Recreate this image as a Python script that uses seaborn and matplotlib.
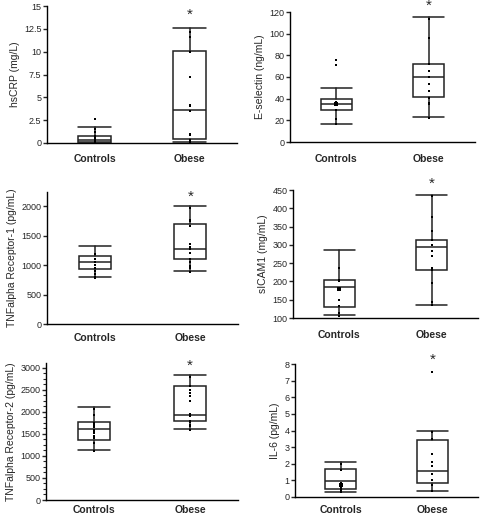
import matplotlib
matplotlib.use('Agg')
import matplotlib.pyplot as plt
import seaborn as sns
import pandas as pd
from matplotlib.ticker import AutoMinorLocator

sns.set_style('white')
plt.rcParams['font.family'] = ['Liberation Sans', 'DejaVu Sans']

groups = ['Controls', 'Obese']

# box stats per group: whisker low, q1, median, q3, whisker high
hscrp_ctrl = [2.6, 1.5, 1.2, 0.75, 0.5, 0.4, 0.3, 0.2, 0.15, 0.1, 0.05]
hscrp_obese = [12.2, 11.6, 10.0, 7.2, 4.2, 4.0, 3.5, 1.0, 0.85, 0.35, 0.2, 0.1]
hscrp_box = [[0.0, 0.15, 0.35, 0.8, 1.7], [0.1, 0.4, 3.6, 10.06, 12.55]]

esel_ctrl = [76, 71, 37, 36, 35, 34, 30, 21.6, 16.4]
esel_obese = [113.8, 95.9, 71.8, 65.6, 60.3, 53.2, 47.3, 40.8, 36.2, 35, 22.6]
esel_box = [[17, 29.4, 35.3, 39.3, 50], [22.9, 41.1, 60.3, 72.4, 115.4]]
esel_big = 35.5

tnf1_ctrl = [1180, 1100, 1050, 1000, 950, 900, 850, 800, 775]
tnf1_obese = [1966, 1758, 1740, 1657, 1354, 1309, 1270, 1200, 1100, 1050, 990, 950, 880]
tnf1_box = [[792, 927, 1056, 1152, 1326], [904, 1101, 1275, 1702, 1994]]

icam_ctrl = [238, 205, 200, 180, 150, 132, 115, 105]
icam_obese = [434, 377, 338, 312, 300, 282, 270, 236, 230, 195, 145, 135]
icam_box = [[107, 129, 184, 205, 286], [135, 232, 295, 314, 437]]
icam_big = 180

tnf2_ctrl = [2073, 1921, 1750, 1700, 1650, 1600, 1550, 1519, 1450, 1400, 1300, 1116]
tnf2_obese = [2794, 2589, 2490, 2430, 2350, 2255, 1950, 1898, 1800, 1769, 1700, 1670, 1600]
tnf2_box = [[1132, 1352, 1602, 1777, 2103], [1617, 1792, 1936, 2589, 2832]]

il6_ctrl = [1.97, 1.6, 0.82, 0.75, 0.6, 0.5, 0.44, 0.3]
il6_obese = [7.52, 3.88, 3.46, 2.61, 2.11, 1.85, 1.41, 1.0, 0.74, 0.36]
il6_box = [[0.3, 0.5, 0.94, 1.67, 2.11], [0.36, 0.84, 1.59, 3.44, 4.0]]
il6_big = 0.72

panels = [
    ('hsCRP (mg/L)', hscrp_ctrl, hscrp_obese, hscrp_box, None, (0, 15), [0, 2.5, 5, 7.5, 10, 12.5, 15], 14.0,
     [47, 237, 6, 143], 8),
    ('E-selectin (ng/mL)', esel_ctrl, esel_obese, esel_box, esel_big, (0, 120), [0, 20, 40, 60, 80, 100, 120], 126,
     [290, 475, 12, 142], 8.5),
    ('TNFalpha Receptor-1 (pg/mL)', tnf1_ctrl, tnf1_obese, tnf1_box, None, (0, 2240), [0, 500, 1000, 1500, 2000], 2163,
     [47, 238, 192, 324], 6.5),
    ('sICAM1 (mg/mL)', icam_ctrl, icam_obese, icam_box, icam_big, (100, 450), [100, 150, 200, 250, 300, 350, 400, 450], 468,
     [293, 478, 190, 318], 9),
    ('TNFalpha Receptor-2 (pg/mL)', tnf2_ctrl, tnf2_obese, tnf2_box, None, (0, 3110), [0, 500, 1000, 1500, 2000, 2500, 3000], 3037,
     [46, 238, 363, 500], 3.5),
    ('IL-6 (pg/mL)', il6_ctrl, il6_obese, il6_box, il6_big, (0, 8), [0, 1, 2, 3, 4, 5, 6, 7, 8], 8.24,
     [295, 478, 364, 497], 5.5),
]

W, H = 480, 516
fig = plt.figure(figsize=(W / 100, H / 100), dpi=100)

for ylabel, ctrl, obese, box, big, ylim, yticks, star_y, (l, r, t, b), xpad in panels:
    ax = fig.add_axes([l / W, 1 - b / H, (r - l) / W, (b - t) / H])
    stats = []
    for g, s in zip(groups, box):
        stats.append(dict(label=g, whislo=s[0], q1=s[1], med=s[2], q3=s[3], whishi=s[4], fliers=[]))
    lw = 1.1
    ax.bxp(stats, positions=[0, 1], widths=0.34, showfliers=False, patch_artist=True,
           boxprops=dict(facecolor='white', edgecolor='#222222', linewidth=lw),
           medianprops=dict(color='#222222', linewidth=lw),
           whiskerprops=dict(color='#222222', linewidth=lw),
           capprops=dict(color='#222222', linewidth=lw), capwidths=0.34)
    df = pd.DataFrame({'group': ['Controls'] * len(ctrl) + ['Obese'] * len(obese),
                       'value': ctrl + obese})
    sns.stripplot(data=df, x='group', y='value', order=groups, jitter=False, marker='s',
                  size=2, color='black', linewidth=0, ax=ax, zorder=5)
    if big is not None:
        sns.stripplot(x=['Controls'], y=[big], order=groups, jitter=False, marker='s',
                      size=3, color='black', linewidth=0, ax=ax, zorder=6)
    ax.text(1, star_y, '*', ha='center', va='center', fontsize=11)
    ax.set_xlim(-0.5, 1.5)
    ax.set_ylim(*ylim)
    ax.set_yticks(yticks)
    ax.set_yticklabels([f'{v:g}' for v in yticks], fontsize=6.5)
    ax.set_xticks([0, 1])
    ax.set_xticklabels(groups, fontsize=7.5, fontweight='bold')
    ax.tick_params(axis='x', length=0, pad=xpad)
    ax.set_xticks([0.5], minor=True)
    ax.tick_params(axis='x', which='minor', length=3, direction='out', width=1)
    ax.tick_params(axis='y', length=3, direction='out', width=1, pad=1, left=True)
    if ylabel.startswith('TNFalpha Receptor-2'):
        ax.yaxis.set_minor_locator(AutoMinorLocator(4))
        ax.tick_params(axis='y', which='minor', length=2, direction='out', width=0.8, left=True)
    ax.set_xlabel('')
    ax.set_ylabel(ylabel, fontsize=7.5, labelpad=3)
    for s in ['top', 'right']:
        ax.spines[s].set_visible(False)
    for s in ['left', 'bottom']:
        ax.spines[s].set_color('black')
        ax.spines[s].set_linewidth(1)

fig.savefig('out.png', dpi=100)
